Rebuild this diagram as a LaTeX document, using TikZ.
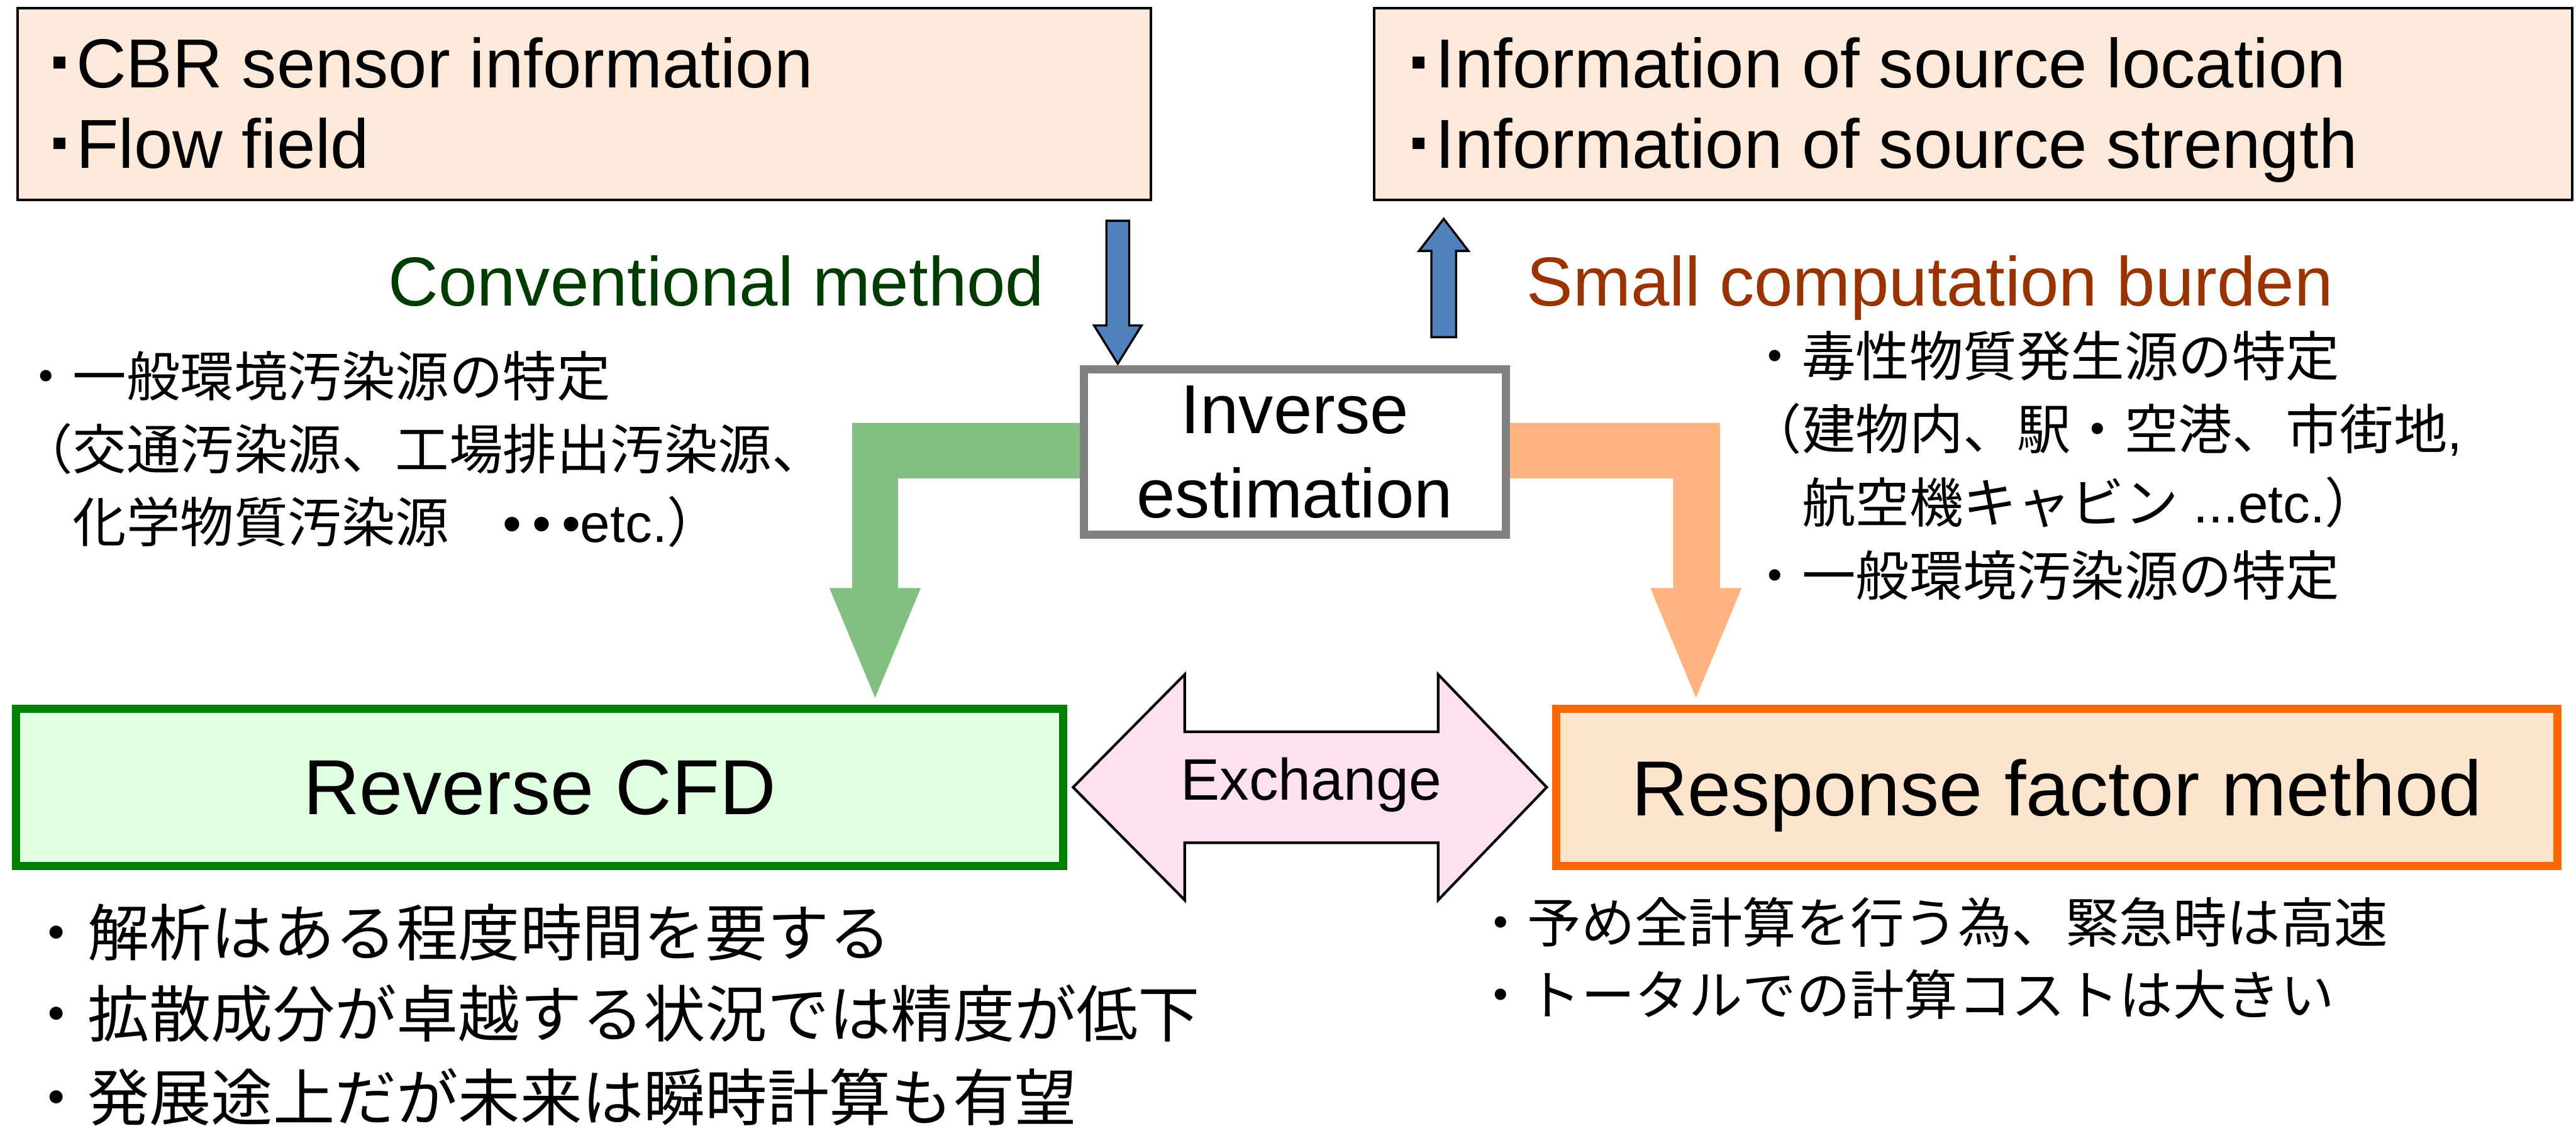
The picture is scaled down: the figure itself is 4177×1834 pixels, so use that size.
\documentclass[tikz,border=0pt]{standalone}
\usepackage{fontspec}
\setmainfont{Liberation Sans}
\newfontfamily\latinfont{Liberation Sans}
\newfontfamily\jpfont{Noto Sans CJK JP}
\usepackage{xcolor}
\usepackage{tikz}

\definecolor{boxpeach}{RGB}{253,233,217}
\definecolor{rfpeach}{RGB}{253,228,204}
\definecolor{cfdfill}{RGB}{225,255,225}
\definecolor{cfdgreen}{RGB}{0,128,0}
\definecolor{rforange}{RGB}{255,102,0}
\definecolor{convgreen}{RGB}{0,60,0}
\definecolor{burdenred}{RGB}{153,51,0}
\definecolor{flowgreen}{RGB}{130,192,130}
\definecolor{flowpeach}{RGB}{255,179,128}
\definecolor{infoblue}{RGB}{79,129,189}
\definecolor{exchpink}{RGB}{255,224,240}
\definecolor{invgray}{RGB}{128,128,128}

% square bullet of the two top boxes
\newcommand{\sqbullet}{\rule[0.31cm]{0.19cm}{0.19cm}\kern0.18cm}

\begin{document}
\begin{tikzpicture}[x=0.01cm, y=-0.01cm,
  infobox/.style={draw, fill=boxpeach, line width=1.2pt, inner sep=0},
  boxtext/.style={font=\fontsize{32}{38}\selectfont, anchor=base west, inner sep=0},
  methodbox/.style={line width=3.7pt, inner sep=0, minimum height=2.55cm,
    font=\fontsize{36}{42}\selectfont, text depth=0pt},
  infoarrow/.style={fill=infoblue, draw=black, line width=1pt},
  jpnote/.style={font=\jpfont\fontsize{24.8}{30}\selectfont, anchor=base west, inner sep=0},
  jpbig/.style={font=\jpfont\fontsize{28.5}{34}\selectfont, anchor=base west, inner sep=0}]
  \useasboundingbox (0,0) rectangle (4177,1834);

  % Input and output boxes
  \node[infobox, minimum width=18.37cm, minimum height=3.11cm] (given) at (947.5,168.5) {};
  \node[infobox, minimum width=19.41cm, minimum height=3.11cm] (result) at (3199.5,168.5) {};
  \node[boxtext] (given1) at (86,142) {\sqbullet CBR sensor information};
  \node[boxtext] (given2) at (86,273) {\sqbullet Flow field};
  \node[boxtext] (result1) at (2290,142) {\sqbullet Information of source location};
  \node[boxtext] (result2) at (2290,273) {\sqbullet Information of source strength};

  % Thin blue arrows
  \filldraw[infoarrow] (1794,358) -- (1831,358) -- (1831,528) -- (1851,528)
    -- (1812.5,590) -- (1774,528) -- (1794,528) -- cycle;
  \filldraw[infoarrow] (2321,547) -- (2361,547) -- (2361,407) -- (2381,407)
    -- (2341,355) -- (2301,407) -- (2321,407) -- cycle;

  \node[boxtext, text=convgreen] (conv) at (629,496) {Conventional method};
  \node[boxtext, text=burdenred] (burden) at (2475,496) {Small computation burden};

  % Elbow arrows down to the two methods
  \fill[flowgreen] (1751,686) -- (1382,686) -- (1382,954) -- (1345,954) -- (1419,1132)
    -- (1493,954) -- (1456,954) -- (1456,776) -- (1751,776) -- cycle;
  \fill[flowpeach] (2448,686) -- (2789,686) -- (2789,954) -- (2824,954) -- (2750,1132)
    -- (2676,954) -- (2713,954) -- (2713,776) -- (2448,776) -- cycle;

  % Inverse estimation
  \node[draw=invgray, fill=white, line width=3.7pt, minimum width=6.84cm, minimum height=2.68cm,
    align=center, font=\fontsize{32}{38.7}\selectfont] (inv) at (2099.5,733.5) {Inverse\\estimation};

  % Exchange arrow
  \filldraw[fill=exchpink, draw=black, line width=1.2pt] (1740,1277) -- (1921,1094) -- (1921,1187)
    -- (2332,1187) -- (2332,1094) -- (2508,1277) -- (2332,1460) -- (2332,1367)
    -- (1921,1367) -- (1921,1460) -- cycle;
  \node[font=\fontsize{27}{32}\selectfont] (exch) at (2126,1273) {Exchange};

  % The two methods
  \node[methodbox, draw=cfdgreen, fill=cfdfill, minimum width=16.97cm] (cfd) at (875,1277) {Reverse CFD};
  \node[methodbox, draw=rforange, fill=rfpeach, minimum width=16.23cm] (rf) at (3335,1277) {Response factor method};

  % Notes
  \node[jpnote] (conv1) at (30,643) {・一般環境汚染源の特定};
  \node[jpnote] (conv2) at (30,761) {（交通汚染源、工場排出汚染源、};
  \node[jpnote] (conv3) at (30,880) {　化学物質汚染源　{\latinfont •\kern0.17cm•\kern0.17cm•etc.}）};

  \node[jpnote] (burden1) at (2834,610) {・毒性物質発生源の特定};
  \node[jpnote] (burden2) at (2834,729) {（建物内、駅・空港、市街地{\latinfont ,}};
  \node[jpnote] (burden3) at (2834,848) {　航空機キャビン{\latinfont\ ...etc.}）};
  \node[jpnote] (burden4) at (2834,966) {・一般環境汚染源の特定};

  \node[jpbig] (cfd1) at (41,1551) {・解析はある程度時間を要する};
  \node[jpbig] (cfd2) at (41,1682) {・拡散成分が卓越する状況では精度が低下};
  \node[jpbig] (cfd3) at (41,1818) {・発展途上だが未来は瞬時計算も有望};

  \node[jpnote] (rf1) at (2389,1529) {・予め全計算を行う為、緊急時は高速};
  \node[jpnote] (rf2) at (2389,1646) {・トータルでの計算コストは大きい};
\end{tikzpicture}
\end{document}
